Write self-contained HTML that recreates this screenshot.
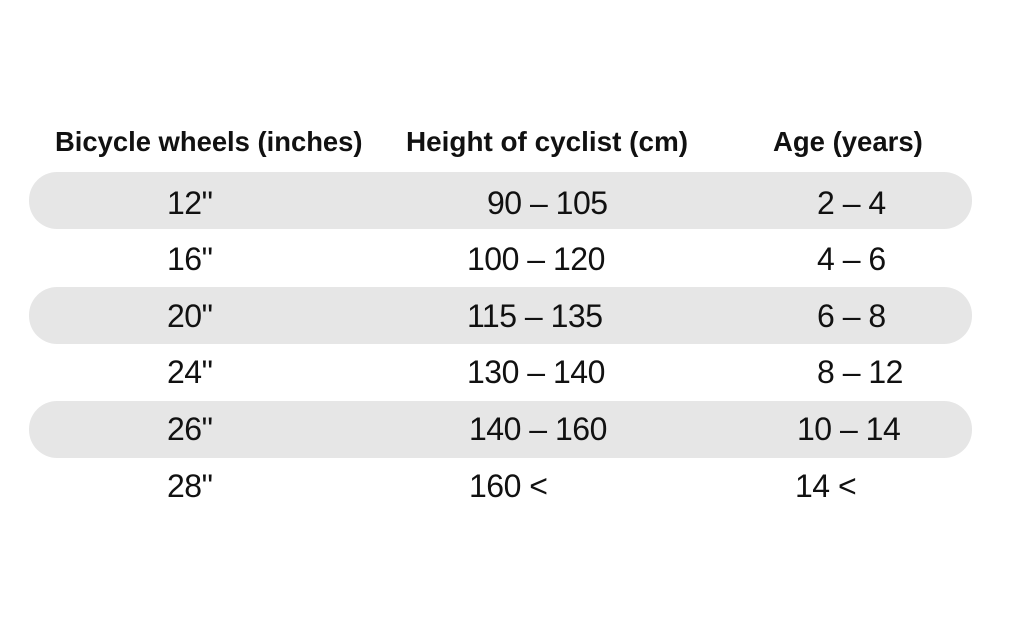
<!DOCTYPE html>
<html><head><meta charset="utf-8"><style>
body{margin:0;width:1022px;height:624px;background:#fff;position:relative;overflow:hidden;font-family:"Liberation Sans",sans-serif;color:#111}
.h{position:absolute;top:126px;font-weight:bold;font-size:27.5px;line-height:32px;white-space:nowrap}
.bar{position:absolute;left:29px;width:943px;height:57px;border-radius:28px;background:#e6e6e6}
.t{position:absolute;font-size:32px;line-height:40px;white-space:nowrap;letter-spacing:-0.5px}
</style></head><body>
<div class="h" style="left:55px;font-size:27.4px">Bicycle wheels (inches)</div>
<div class="h" style="left:406px;font-size:27.9px">Height of cyclist (cm)</div>
<div class="h" style="left:773px;font-size:27.5px">Age (years)</div>
<div class="bar" style="top:172px"></div>
<div class="bar" style="top:287px"></div>
<div class="bar" style="top:401px"></div>

<div class="t" style="left:167px;top:183px">12"</div>
<div class="t" style="left:487px;top:183px">90 – 105</div>
<div class="t" style="left:817px;top:183px">2 – 4</div>

<div class="t" style="left:167px;top:239px">16"</div>
<div class="t" style="left:467px;top:239px">100 – 120</div>
<div class="t" style="left:817px;top:239px">4 – 6</div>

<div class="t" style="left:167px;top:296px">20"</div>
<div class="t" style="left:467px;top:296px">115 – 135</div>
<div class="t" style="left:817px;top:296px">6 – 8</div>

<div class="t" style="left:167px;top:352px">24"</div>
<div class="t" style="left:467px;top:352px">130 – 140</div>
<div class="t" style="left:817px;top:352px">8 – 12</div>

<div class="t" style="left:167px;top:409px">26"</div>
<div class="t" style="left:469px;top:409px">140 – 160</div>
<div class="t" style="left:797px;top:409px">10 – 14</div>

<div class="t" style="left:167px;top:466px">28"</div>
<div class="t" style="left:469px;top:466px">160 &lt;</div>
<div class="t" style="left:795px;top:466px">14 &lt;</div>
</body></html>
